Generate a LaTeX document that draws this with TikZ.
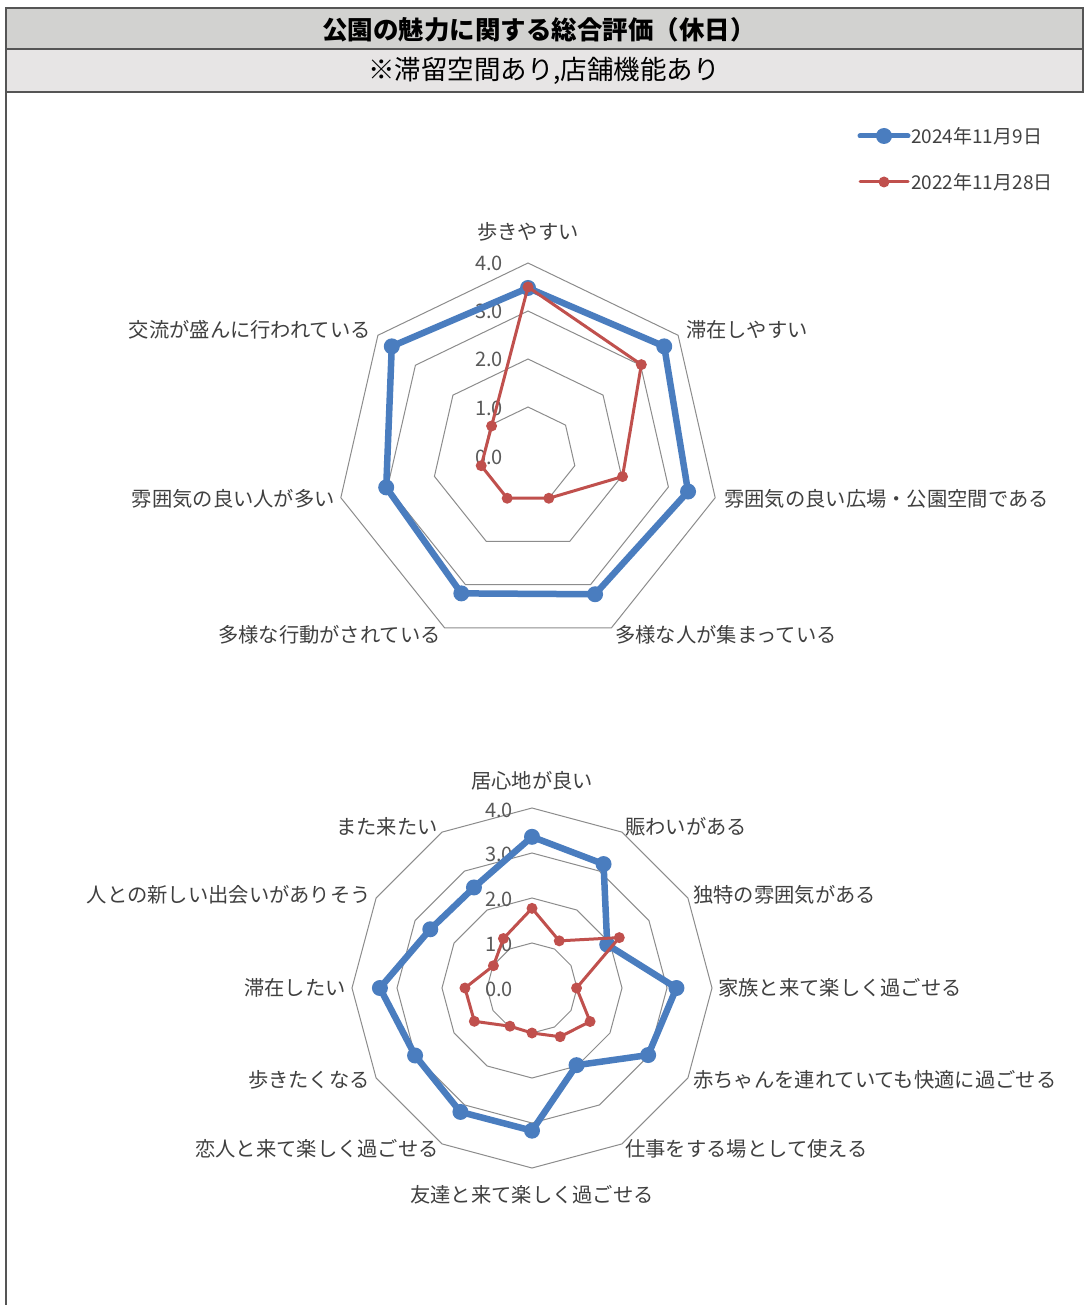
\documentclass[tikz,border=0pt]{standalone}
\usepackage{fontspec}
\setmainfont{Noto Sans CJK JP}
\usetikzlibrary{calc}
\definecolor{serB}{HTML}{4A7DBF}
\definecolor{serR}{HTML}{C0504D}
\definecolor{gridc}{HTML}{8C8C8C}
\definecolor{lblc}{HTML}{404040}
\definecolor{tickc}{HTML}{595959}
\definecolor{hdrA}{HTML}{D2D2D0}
\definecolor{hdrB}{HTML}{E7E5E5}
\definecolor{frm}{HTML}{555555}
\tikzset{
  gridline/.style={draw=gridc, line width=1pt, line join=miter},
  bline/.style={draw=serB, line width=6.5pt, line join=round},
  rline/.style={draw=serR, line width=3pt, line join=round},
  lbl/.style={text=lblc, font=\fontsize{20.3}{24}\selectfont, inner sep=0pt},
  tick/.style={text=tickc, font=\fontsize{20}{22}\selectfont, inner sep=0pt},
  leg/.style={text=lblc, font=\fontsize{19}{22}\selectfont, inner sep=0pt, anchor=west},
}
\begin{document}
\begin{tikzpicture}[x=1pt,y=-1pt]
\useasboundingbox (0,0) rectangle (1085,1305);
% header
\fill[white] (0,0) rectangle (1085,1305);
\draw[frm, line width=1.5pt, fill=hdrA] (6,8) rectangle (1083,49);
\draw[frm, line width=1.5pt, fill=hdrB] (6,49) rectangle (1083,92);
\draw[frm, line width=2pt] (6,92) -- (6,1305);
\node[font=\fontsize{25.5}{28}\selectfont\bfseries, text=black, inner sep=0pt] (title) at (539,30) {公園の魅力に関する総合評価（休日）};
\node[font=\fontsize{26.5}{30}\selectfont, text=black, inner sep=0pt] (subtitle) at (544,71) {※滞留空間あり,店舗機能あり};
% legend
\coordinate (lb1) at (860,136); \coordinate (lb2) at (908,136);
\draw[serB, line width=5pt, line cap=round] (lb1) -- (lb2);
\fill[serB] (884,136) circle (8pt);
\node[leg] (leg1) at (911,136) {2024年11月9日};
\coordinate (lr1) at (860,182); \coordinate (lr2) at (908,182);
\draw[serR, line width=3pt, line cap=round] (lr1) -- (lr2);
\fill[serR] (884,182) circle (5.5pt);
\node[leg] (leg2) at (911,182) {2022年11月28日};

% ---------------- chart 1 ----------------
\begin{scope}[shift={(528,455)}]
\foreach \k in {1,...,4}{
  \draw[gridline] (-90:{48*\k}) \foreach \i in {1,...,6}{ -- ({-90+360/7*\i}:{48*\k}) } -- cycle;
}
\foreach \t/\y in {0.0/2,1.0/-47,2.0/-96,3.0/-144,4.0/-192}{
  \node[tick, anchor=east] at (-25,\y) {\t};
}
\foreach \v [count=\i from 0] in {3.48,3.63,3.42,3.22,3.2,3.03,3.63}{
  \coordinate (a\i) at ({-90+360/7*\i}:{48*\v});
}
\foreach \v [count=\i from 0] in {3.5,3.02,2.02,1.0,1.0,1.0,0.97}{
  \coordinate (r\i) at ({-90+360/7*\i}:{48*\v});
}
\draw[bline] (a0)--(a1)--(a2)--(a3)--(a4)--(a5)--(a6)--cycle;
\foreach \i in {0,...,6}{ \fill[serB] (a\i) circle (8pt); }
\draw[rline] (r0)--(r1)--(r2)--(r3)--(r4)--(r5)--(r6)--cycle;
\foreach \i in {0,...,6}{ \fill[serR] (r\i) circle (5.5pt); }
\end{scope}
\node[lbl] (l11) at (528,232) {歩きやすい};
\node[lbl, anchor=west] (l12) at (686,330) {滞在しやすい};
\node[lbl, anchor=west] (l13) at (724,499) {雰囲気の良い広場・公園空間である};
\node[lbl, anchor=west] (l14) at (615,635) {多様な人が集まっている};
\node[lbl, anchor=east] (l15) at (441,635) {多様な行動がされている};
\node[lbl, anchor=east] (l16) at (335,499) {雰囲気の良い人が多い};
\node[lbl, anchor=east] (l17) at (371,330) {交流が盛んに行われている};

% ---------------- chart 2 ----------------
\begin{scope}[shift={(532,988)}]
\foreach \k in {1,...,4}{
  \draw[gridline] (-90:{45*\k}) \foreach \i in {1,...,11}{ -- ({-90+30*\i}:{45*\k}) } -- cycle;
}
\foreach \t/\y in {0.0/1,1.0/-44,2.0/-89,3.0/-134,4.0/-178}{
  \node[tick, anchor=east] at (-19,\y) {\t};
}
\foreach \v [count=\i from 0] in {3.36,3.18,1.93,3.21,2.98,1.98,3.17,3.18,3.0,3.38,2.61,2.58}{
  \coordinate (p\i) at ({-90+30*\i}:{45*\v});
}
\foreach \v [count=\i from 0] in {1.77,1.21,2.24,0.99,1.49,1.25,1.0,0.98,1.48,1.49,0.99,1.27}{
  \coordinate (q\i) at ({-90+30*\i}:{45*\v});
}
\draw[bline] (p0)--(p1)--(p2)--(p3)--(p4)--(p5)--(p6)--(p7)--(p8)--(p9)--(p10)--(p11)--cycle;
\foreach \i in {0,...,11}{ \fill[serB] (p\i) circle (8pt); }
\draw[rline] (q0)--(q1)--(q2)--(q3)--(q4)--(q5)--(q6)--(q7)--(q8)--(q9)--(q10)--(q11)--cycle;
\foreach \i in {0,...,11}{ \fill[serR] (q\i) circle (5.5pt); }
\end{scope}
\node[lbl] (l21) at (532,781) {居心地が良い};
\node[lbl, anchor=west] (l22) at (625,827) {賑わいがある};
\node[lbl, anchor=west] (l23) at (693,895) {独特の雰囲気がある};
\node[lbl, anchor=west] (l24) at (718,988) {家族と来て楽しく過ごせる};
\node[lbl, anchor=west] (l25) at (693,1080) {赤ちゃんを連れていても快適に過ごせる};
\node[lbl, anchor=west] (l26) at (625,1149) {仕事をする場として使える};
\node[lbl] (l27) at (532,1195) {友達と来て楽しく過ごせる};
\node[lbl, anchor=east] (l28) at (439,1149) {恋人と来て楽しく過ごせる};
\node[lbl, anchor=east] (l29) at (370,1080) {歩きたくなる};
\node[lbl, anchor=east] (l210) at (346,988) {滞在したい};
\node[lbl, anchor=east] (l211) at (371,895) {人との新しい出会いがありそう};
\node[lbl, anchor=east] (l212) at (438,827) {また来たい};
\end{tikzpicture}
\end{document}
